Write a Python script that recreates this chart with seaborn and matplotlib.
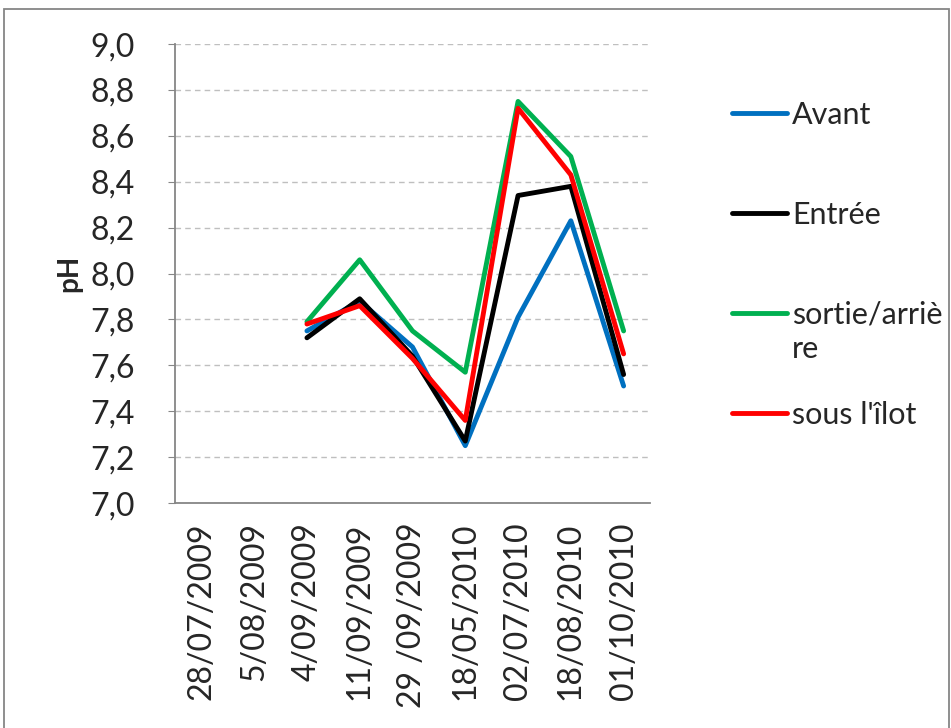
import numpy as np
import pandas as pd
import matplotlib
matplotlib.use("Agg")
import matplotlib.pyplot as plt
import seaborn as sns
from matplotlib.patches import Rectangle
from matplotlib.ticker import FuncFormatter

# ── Data ──────────────────────────────────────────────────────────────────
dates = ["28/07/2009", "5/08/2009", "4/09/2009", "11/09/2009", "29 /09/2009",
         "18/05/2010", "02/07/2010", "18/08/2010", "01/10/2010"]
avant = [np.nan, np.nan, 7.75, 7.88, 7.68, 7.25, 7.81, 8.23, 7.51]
entree = [np.nan, np.nan, 7.72, 7.89, 7.64, 7.27, 8.34, 8.38, 7.56]
sortie = [np.nan, np.nan, 7.79, 8.06, 7.75, 7.57, 8.75, 8.51, 7.75]
sous_ilot = [np.nan, np.nan, 7.78, 7.86, 7.63, 7.36, 8.72, 8.43, 7.65]

series_names = ["Avant", "Entrée", "sortie/arrière", "sous l'îlot"]
series_colors = ["#0070C0", "#000000", "#00B050", "#FF0000"]

df = pd.DataFrame({
    "idx": np.tile(np.arange(len(dates)), 4),
    "pH": avant + entree + sortie + sous_ilot,
    "serie": np.repeat(series_names, len(dates)),
}).dropna()

# ── Plot ──────────────────────────────────────────────────────────────────
sns.set_style("white")
plt.rcParams["font.family"] = ["Lato", "DejaVu Sans"]

fig = plt.figure(figsize=(9.51, 7.28), dpi=100)
ax = fig.add_axes([0.184, 0.309, 0.4995, 0.6305])

sns.lineplot(data=df, x="idx", y="pH", hue="serie", hue_order=series_names,
             palette=series_colors, linewidth=3.5, sort=False, ax=ax)

ax.set_xlim(-0.5, len(dates) - 0.5)
ax.set_ylim(7.0, 9.0)
ax.set_yticks(np.arange(7.0, 9.01, 0.2))
ax.yaxis.set_major_formatter(FuncFormatter(lambda v, p: f"{v:.1f}".replace(".", ",")))
ax.set_xticks(range(len(dates)))
ax.set_xticklabels(dates, rotation=90, fontsize=23)
ax.tick_params(axis="y", labelsize=23, length=5, color="#868686", pad=24, left=True)
ax.tick_params(axis="x", length=0, pad=14)

ax.yaxis.grid(True, linestyle=(0, (4, 3)), color="#BFBFBF", linewidth=1)
ax.set_axisbelow(True)
for s in ["top", "right"]:
    ax.spines[s].set_visible(False)
for s in ["left", "bottom"]:
    ax.spines[s].set_color("#868686")
    ax.spines[s].set_linewidth(1.3)

ax.set_xlabel("")
ax.set_ylabel("pH", fontsize=20, fontweight="bold", labelpad=6)

# ── Legend (Excel wraps "sortie/arrière" onto a second line) ─────────────
ax.get_legend().remove()
handles, labels = ax.get_legend_handles_labels()
wrapped = {"sortie/arrière": ("sortie/arriè", "re")}
short_labels = [wrapped.get(l, (l,))[0] for l in labels]
leg = fig.legend(handles, short_labels, loc="upper left", bbox_to_anchor=(0.77, 0.861),
                 frameon=False, fontsize=22, handlelength=1.8, handletextpad=0.15,
                 labelspacing=2.35, borderpad=0, borderaxespad=0)

fig.canvas.draw()
for txt, full in zip(leg.get_texts(), labels):
    if full in wrapped:
        bb = txt.get_window_extent().transformed(fig.transFigure.inverted())
        fig.text(bb.x0, bb.y0 - 0.008, wrapped[full][1], fontsize=22,
                 ha="left", va="top")

# outer chart border
fig.patches.append(Rectangle((0.0042, -0.01), 0.9937, 0.9976, transform=fig.transFigure,
                             fill=False, edgecolor="#868686", linewidth=1.3))

fig.savefig("out.png", dpi=100)
